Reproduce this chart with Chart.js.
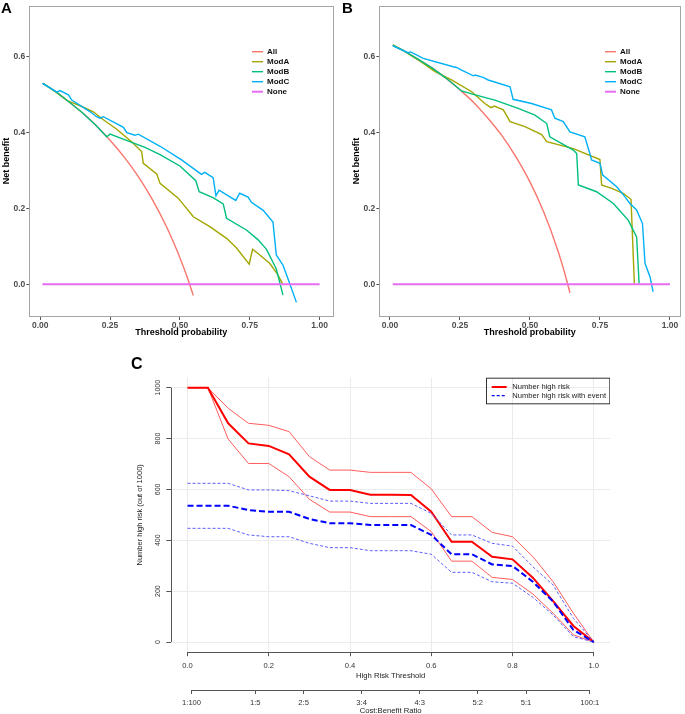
<!DOCTYPE html>
<html>
<head>
<meta charset="utf-8">
<title>Decision curves and clinical impact</title>
<script src="https://cdn.jsdelivr.net/npm/chart.js@4.4.1/dist/chart.umd.min.js"></script>
<style>
  html, body { margin: 0; padding: 0; background: #fff; }
  body { position: relative; width: 685px; height: 714px; overflow: hidden; }
  canvas { position: absolute; }
  .tag { position: absolute; font: bold 15px/1 "Liberation Sans", Arial, sans-serif; color: #000; }
</style>
</head>
<body>
<canvas id="chartA" width="340" height="345" style="left:0;top:0"></canvas>
<canvas id="chartB" width="335" height="345" style="left:350px;top:0"></canvas>
<canvas id="chartC" width="480" height="348" style="left:130px;top:370px"></canvas>
<div class="tag" style="left:1px;top:0">A</div>
<div class="tag" style="left:342px;top:0">B</div>
<div class="tag" style="left:131px;top:356px;font-size:16px">C</div>
<script>
// ===== Data: decision curves (threshold, net benefit) =====
const dcaNames = ['All', 'ModA', 'ModB', 'ModC', 'None'];
const dcaColors = ['#F8766D', '#A3A500', '#00BF7D', '#00B0F6', '#E76BF3'];
const dcaXTicks = [0, 0.25, 0.5, 0.75, 1];
const dcaYTicks = [0, 0.2, 0.4, 0.6];

const aAll = [[0.01, 0.530], [0.05, 0.511], [0.10, 0.483], [0.15, 0.453], [0.20, 0.419], [0.25, 0.380],
  [0.30, 0.336], [0.35, 0.285], [0.40, 0.225], [0.45, 0.155], [0.475, 0.114], [0.50, 0.070],
  [0.525, 0.021], [0.548, -0.030]];
const aModA = [[0.01, 0.530], [0.06, 0.505], [0.10, 0.483], [0.119, 0.478], [0.149, 0.469], [0.190, 0.455],
  [0.226, 0.434], [0.274, 0.409], [0.327, 0.376], [0.363, 0.350], [0.369, 0.319], [0.417, 0.291],
  [0.429, 0.266], [0.494, 0.227], [0.548, 0.178], [0.607, 0.152], [0.667, 0.121], [0.702, 0.096],
  [0.748, 0.053], [0.760, 0.092], [0.786, 0.077], [0.821, 0.055], [0.848, 0.028], [0.867, 0.002]];
const aModB = [[0.01, 0.530], [0.06, 0.506], [0.10, 0.483], [0.15, 0.453], [0.20, 0.419], [0.238, 0.389],
  [0.25, 0.396], [0.304, 0.381], [0.375, 0.361], [0.429, 0.342], [0.50, 0.312], [0.557, 0.273],
  [0.569, 0.244], [0.62, 0.228], [0.655, 0.212], [0.667, 0.174], [0.738, 0.143], [0.78, 0.117],
  [0.81, 0.092], [0.845, 0.040], [0.869, -0.029]];
const aModC = [[0.008, 0.530], [0.060, 0.507], [0.071, 0.511], [0.101, 0.500], [0.113, 0.486], [0.179, 0.455],
  [0.202, 0.442], [0.214, 0.438], [0.226, 0.442], [0.298, 0.414], [0.310, 0.400], [0.339, 0.393],
  [0.351, 0.396], [0.429, 0.364], [0.506, 0.328], [0.577, 0.290], [0.589, 0.295], [0.619, 0.281],
  [0.629, 0.233], [0.640, 0.248], [0.700, 0.221], [0.714, 0.240], [0.744, 0.230], [0.756, 0.216],
  [0.798, 0.195], [0.833, 0.164], [0.845, 0.077], [0.869, 0.050], [0.893, 0.002], [0.917, -0.048]];
const aNone = [[0.008, 0], [1.0, 0]];

const bAll = [[0.01, 0.631], [0.05, 0.616], [0.10, 0.594], [0.15, 0.571], [0.20, 0.544], [0.25, 0.513],
  [0.30, 0.479], [0.35, 0.438], [0.40, 0.392], [0.45, 0.336], [0.50, 0.270], [0.55, 0.189],
  [0.60, 0.088], [0.625, 0.027], [0.643, -0.023]];
const bModA = [[0.01, 0.631], [0.05, 0.616], [0.113, 0.586], [0.161, 0.561], [0.220, 0.539], [0.292, 0.508],
  [0.339, 0.477], [0.361, 0.466], [0.373, 0.470], [0.405, 0.460], [0.429, 0.429], [0.482, 0.416],
  [0.542, 0.395], [0.560, 0.376], [0.655, 0.358], [0.750, 0.329], [0.756, 0.262], [0.792, 0.253],
  [0.833, 0.240], [0.861, 0.224], [0.873, 0.002]];
const bModB = [[0.01, 0.631], [0.05, 0.616], [0.10, 0.594], [0.15, 0.571], [0.20, 0.544], [0.256, 0.510],
  [0.298, 0.501], [0.375, 0.486], [0.458, 0.464], [0.518, 0.446], [0.560, 0.424], [0.571, 0.389],
  [0.655, 0.354], [0.667, 0.345], [0.673, 0.262], [0.738, 0.244], [0.798, 0.213], [0.851, 0.169],
  [0.881, 0.125], [0.890, 0.002]];
const bModC = [[0.010, 0.629], [0.065, 0.611], [0.074, 0.613], [0.119, 0.596], [0.226, 0.574], [0.238, 0.572],
  [0.256, 0.565], [0.298, 0.550], [0.304, 0.552], [0.333, 0.546], [0.351, 0.539], [0.429, 0.521],
  [0.440, 0.488], [0.506, 0.477], [0.577, 0.460], [0.589, 0.438], [0.619, 0.429], [0.643, 0.402],
  [0.696, 0.389], [0.714, 0.345], [0.720, 0.328], [0.750, 0.319], [0.760, 0.288], [0.810, 0.257],
  [0.839, 0.231], [0.857, 0.213], [0.881, 0.196], [0.902, 0.160], [0.911, 0.055], [0.929, 0.019],
  [0.940, -0.020]];
const bNone = [[0.01, 0], [1.0, 0]];

// ===== Data: clinical impact (out of 1000) =====
const cThreshold = [0, 0.05, 0.10, 0.15, 0.20, 0.25, 0.30, 0.35, 0.40, 0.45, 0.50,
  0.55, 0.60, 0.65, 0.70, 0.75, 0.80, 0.85, 0.90, 0.95, 1.0];
const cHighRisk = [1000, 1000, 860, 781, 771, 738, 650, 598, 598, 579, 579, 578, 512, 394, 394, 335, 325, 253, 161, 63, 0];
const cHighRiskHi = [1000, 1000, 919, 860, 852, 827, 729, 676, 676, 667, 667, 667, 602, 493, 493, 431, 414, 336, 237, 113, 0];
const cHighRiskLo = [1000, 1000, 798, 702, 702, 650, 561, 511, 511, 493, 493, 493, 434, 318, 318, 254, 246, 189, 113, 28, 0];
const cEvent = [536, 536, 536, 519, 512, 512, 484, 467, 467, 460, 460, 460, 421, 345, 345, 305, 299, 237, 159, 47, 0];
const cEventHi = [624, 624, 624, 598, 598, 595, 575, 554, 554, 545, 545, 545, 506, 421, 421, 388, 377, 296, 224, 93, 0];
const cEventLo = [447, 447, 447, 421, 414, 414, 388, 371, 371, 359, 359, 359, 345, 274, 274, 237, 231, 176, 106, 21, 0];
const cXTicks = [0, 0.2, 0.4, 0.6, 0.8, 1.0];
const cYTicks = [0, 200, 400, 600, 800, 1000];
const cCostBenefit = ['1:100', '1:5', '2:5', '3:4', '4:3', '5:2', '5:1', '100:1'];

const FONT = '"Liberation Sans", Arial, Helvetica, sans-serif';
Chart.defaults.font.family = FONT;

// box round the plotting panel (ggplot panel border)
const frameBox = {
  id: 'frameBox',
  afterDraw(chart, args, opts) {
    if (!opts.color) return;
    const {ctx, chartArea: a} = chart;
    ctx.save();
    ctx.strokeStyle = opts.color;
    ctx.lineWidth = 1;
    const l = Math.round(a.left) + 0.5, t = Math.round(a.top) + 0.5;
    ctx.strokeRect(l, t, Math.round(a.right) - Math.round(a.left), Math.round(a.bottom) - Math.round(a.top));
    ctx.restore();
  }
};

// legend drawn inside the panel at a fixed spot
const insideLegend = {
  id: 'insideLegend',
  afterDraw(chart, args, o) {
    if (!o.x) return;
    const ctx = chart.ctx;
    ctx.save();
    if (o.box) {
      ctx.strokeStyle = o.box.color;
      ctx.lineWidth = 1;
      ctx.strokeRect(o.box.x + 0.5, o.box.y + 0.5, o.box.w, o.box.h);
    }
    ctx.font = o.font;
    ctx.textAlign = 'left';
    ctx.textBaseline = 'middle';
    let row = 0;
    chart.data.datasets.forEach(ds => {
      if (ds.legendHide) return;
      const y = o.y + row * o.rowH;
      ctx.beginPath();
      ctx.strokeStyle = ds.borderColor;
      ctx.lineWidth = ds.legendWidth || ds.borderWidth;
      ctx.setLineDash(ds.legendDash || []);
      ctx.moveTo(o.x, y);
      ctx.lineTo(o.x + o.lineLen, y);
      ctx.stroke();
      ctx.setLineDash([]);
      ctx.fillStyle = o.color;
      ctx.fillText(ds.label, o.x + o.lineLen + o.gap, y);
      row++;
    });
    ctx.restore();
  }
};

function points(pairs) {
  return pairs.map(([x, y]) => ({x, y}));
}

function dcaChart(id, series, xMin, xMax, padRight, legendX) {
  const datasets = series.map((pts, i) => ({
    label: dcaNames[i],
    data: points(pts),
    borderColor: dcaColors[i],
    borderWidth: i === 4 ? 2 : 1.4,
    order: 5 - i,
    pointRadius: 0,
    tension: 0,
    cubicInterpolationMode: i === 0 ? 'monotone' : 'default'
  }));

  return new Chart(document.getElementById(id), {
    type: 'line',
    data: {datasets},
    options: {
      responsive: false,
      animation: false,
      layout: {padding: {left: 0, right: padRight, top: 6, bottom: 0}},
      plugins: {
        legend: {display: false},
        tooltip: {enabled: false},
        frameBox: {color: '#a5a5a5'},
        insideLegend: {x: legendX, y: 51.7, rowH: 10, lineLen: 11, gap: 4,
          font: 'bold 8px ' + FONT, color: '#111'}
      },
      scales: {
        x: {
          type: 'linear',
          min: xMin,
          max: xMax,
          afterBuildTicks: s => { s.ticks = dcaXTicks.map(v => ({value: v})); },
          afterFit: s => { s.height = 29; },
          ticks: {
            callback: v => v.toFixed(2),
            color: '#4d4d4d',
            font: {size: 8.5, weight: 'bold'},
            padding: 1,
            maxRotation: 0,
            autoSkip: false
          },
          grid: {drawOnChartArea: false, drawTicks: true, tickLength: 4, tickColor: '#555'},
          border: {display: false},
          title: {display: true, text: 'Threshold probability', color: '#000',
            font: {size: 9, weight: 'bold'}, padding: {top: 0, bottom: 6.6}}
        },
        y: {
          type: 'linear',
          min: -0.084,
          max: 0.734,
          afterBuildTicks: s => { s.ticks = dcaYTicks.map(v => ({value: v})); },
          afterFit: s => { s.width = 29.3; },
          ticks: {
            callback: v => v.toFixed(1),
            color: '#4d4d4d',
            font: {size: 8.5, weight: 'bold'},
            padding: 1
          },
          grid: {drawOnChartArea: false, drawTicks: true, tickLength: 3, tickColor: '#555'},
          border: {display: false},
          title: {display: true, text: 'Net benefit', color: '#000',
            font: {size: 9, weight: 'bold'}, padding: {top: 1, bottom: 0}}
        }
      }
    },
    plugins: [frameBox, insideLegend]
  });
}

dcaChart('chartA', [aAll, aModA, aModB, aModC, aNone], -0.039, 1.049, 6.7, 252);
dcaChart('chartB', [bAll, bModA, bModB, bModC, bNone], -0.038, 1.036, 5, 255);

// ===== Panel C: clinical impact curve (base R look) =====
function zip(xs, ys) {
  return xs.map((x, i) => ({x, y: ys[i]}));
}

// thresholds of the cost:benefit ticks, a:b -> a / (a + b)
const cbTicks = cCostBenefit.map(s => {
  const [a, b] = s.split(':').map(Number);
  return a / (a + b);
});

const baseAxes = {
  id: 'baseAxes',
  afterDraw(chart) {
    const {ctx, chartArea: a, scales: {x, x2, y}} = chart;
    ctx.save();
    ctx.strokeStyle = '#555';
    ctx.lineWidth = 1;
    ctx.beginPath();
    const yb = Math.round(a.bottom) + 0.5;
    ctx.moveTo(x.getPixelForValue(cXTicks[0]), yb);
    ctx.lineTo(x.getPixelForValue(cXTicks[cXTicks.length - 1]), yb);
    const y2 = Math.round(x2.top) + 0.5;
    ctx.moveTo(x2.getPixelForValue(cbTicks[0]), y2);
    ctx.lineTo(x2.getPixelForValue(cbTicks[cbTicks.length - 1]), y2);
    const xl = Math.round(a.left) + 0.5;
    ctx.moveTo(xl, y.getPixelForValue(cYTicks[0]));
    ctx.lineTo(xl, y.getPixelForValue(cYTicks[cYTicks.length - 1]));
    ctx.stroke();

    // y labels read upward, as in base graphics
    ctx.font = '7px ' + FONT;
    ctx.fillStyle = '#333';
    ctx.textAlign = 'center';
    ctx.textBaseline = 'middle';
    cYTicks.forEach(v => {
      ctx.save();
      ctx.translate(a.left - 13, y.getPixelForValue(v));
      ctx.rotate(-Math.PI / 2);
      ctx.fillText(String(v), 0, 0);
      ctx.restore();
    });
    ctx.restore();
  }
};

const lineBase = {pointRadius: 0, tension: 0, fill: false};

new Chart(document.getElementById('chartC'), {
  type: 'line',
  data: {
    datasets: [
      {...lineBase, label: 'Number high risk', data: zip(cThreshold, cHighRisk),
        borderColor: '#FF0000', borderWidth: 2, legendWidth: 2, order: 2},
      {...lineBase, label: 'Number high risk upper', legendHide: true, data: zip(cThreshold, cHighRiskHi),
        borderColor: '#FF5C5C', borderWidth: 1, order: 2},
      {...lineBase, label: 'Number high risk lower', legendHide: true, data: zip(cThreshold, cHighRiskLo),
        borderColor: '#FF5C5C', borderWidth: 1, order: 2},
      {...lineBase, label: 'Number high risk with event', data: zip(cThreshold, cEvent),
        borderColor: '#0000FF', borderWidth: 2, borderDash: [6, 3], legendWidth: 1.2, legendDash: [3, 2], order: 1},
      {...lineBase, label: 'Number high risk with event upper', legendHide: true, data: zip(cThreshold, cEventHi),
        borderColor: '#5C5CFF', borderWidth: 1, borderDash: [3, 2], order: 1},
      {...lineBase, label: 'Number high risk with event lower', legendHide: true, data: zip(cThreshold, cEventLo),
        borderColor: '#5C5CFF', borderWidth: 1, borderDash: [3, 2], order: 1}
    ]
  },
  options: {
    responsive: false,
    animation: false,
    layout: {padding: {left: 0, right: 0, top: 7.5, bottom: 0}},
    plugins: {
      legend: {display: false},
      tooltip: {enabled: false},
      insideLegend: {x: 361.7, y: 17, rowH: 8.7, lineLen: 15, gap: 5.6,
        font: '7.6px ' + FONT, color: '#222',
        box: {x: 356, y: 7.7, w: 123.3, h: 25.6, color: '#333'}}
    },
    scales: {
      x: {
        type: 'linear',
        position: 'bottom',
        min: -0.04,
        max: 1.04,
        afterBuildTicks: s => { s.ticks = cXTicks.map(v => ({value: v})); },
        afterFit: s => { s.height = 37.8; },
        ticks: {callback: v => v.toFixed(1), color: '#333', font: {size: 7.6}, padding: 5,
          maxRotation: 0, autoSkip: false},
        grid: {color: '#ebebeb', lineWidth: 1, drawTicks: true, tickLength: 4, tickColor: '#555'},
        border: {display: false},
        title: {display: true, text: 'High Risk Threshold', color: '#222',
          font: {size: 7.7}, padding: {top: 0, bottom: 9.4}}
      },
      x2: {
        type: 'linear',
        position: 'bottom',
        min: -0.04,
        max: 1.04,
        afterBuildTicks: s => { s.ticks = cbTicks.map(v => ({value: v})); },
        afterFit: s => { s.height = 28; },
        ticks: {callback: (v, i) => cCostBenefit[i], color: '#333', font: {size: 7.6}, padding: 4,
          maxRotation: 0, autoSkip: false},
        grid: {drawOnChartArea: false, drawTicks: true, tickLength: 4, tickColor: '#555'},
        border: {display: false},
        title: {display: true, text: 'Cost:Benefit Ratio', color: '#222',
          font: {size: 7.7}, padding: {top: 0, bottom: 2.7}}
      },
      y: {
        type: 'linear',
        min: -40,
        max: 1040,
        afterBuildTicks: s => { s.ticks = cYTicks.map(v => ({value: v})); },
        afterFit: s => { s.width = 41.3; },
        ticks: {display: false},
        grid: {color: '#ebebeb', lineWidth: 1, drawTicks: true, tickLength: 5, tickColor: '#555'},
        border: {display: false},
        title: {display: true, text: 'Number high risk (out of 1000)', color: '#222',
          font: {size: 7.5}, padding: {top: 5.5, bottom: 0}}
      }
    }
  },
  plugins: [insideLegend, baseAxes]
});
</script>
</body>
</html>
